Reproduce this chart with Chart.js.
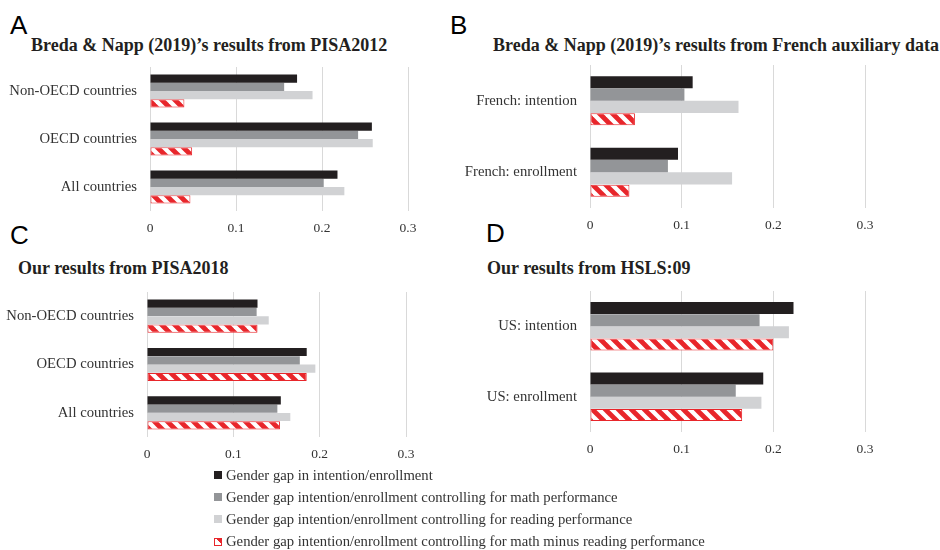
<!DOCTYPE html>
<html>
<head>
<meta charset="utf-8">
<script src="https://cdn.jsdelivr.net/npm/chart.js@4.4.1/dist/chart.umd.min.js"></script>
<style>
  body { margin:0; background:#fff; width:940px; height:550px; position:relative; overflow:hidden; font-family:'Liberation Serif', serif; }
  .pl { position:absolute; font-family:'Liberation Sans', Arial, sans-serif; font-size:26px; line-height:1; color:#000; }
  .tt { position:absolute; font-weight:bold; font-size:18px; line-height:1; color:#231f20; white-space:nowrap; }
  .box { position:absolute; }
  .box canvas { display:block; }
  #legend { position:absolute; left:214px; top:464px; font-size:14.7px; color:#333; }
  #legend .row { height:22.2px; display:flex; align-items:center; white-space:nowrap; }
  #legend .mk { width:8px; height:8px; margin-right:4px; box-sizing:border-box; }
</style>
</head>
<body>
<div class="pl" style="left:10px;top:12px">A</div>
<div class="pl" style="left:450px;top:12px">B</div>
<div class="pl" style="left:10px;top:222px">C</div>
<div class="pl" style="left:486px;top:220px">D</div>

<div class="tt" style="left:31px;top:36px">Breda &amp; Napp (2019)’s results from PISA2012</div>
<div class="tt" style="left:493px;top:36px">Breda &amp; Napp (2019)’s results from French auxiliary data</div>
<div class="tt" style="left:18px;top:259px">Our results from PISA2018</div>
<div class="tt" style="left:487px;top:259px">Our results from HSLS:09</div>

<div class="box" id="boxA"><canvas id="cvA"></canvas></div>
<div class="box" id="boxB"><canvas id="cvB"></canvas></div>
<div class="box" id="boxC"><canvas id="cvC"></canvas></div>
<div class="box" id="boxD"><canvas id="cvD"></canvas></div>

<div id="legend"></div>

<script>
// --- series names (legend) ---
const seriesNames = [
  'Gender gap in intention/enrollment',
  'Gender gap intention/enrollment controlling for math performance',
  'Gender gap intention/enrollment controlling for reading performance',
  'Gender gap intention/enrollment controlling for math minus reading performance'
];

// --- A: Breda & Napp, PISA2012 ---
const catA   = ['Non-OECD countries', 'OECD countries', 'All countries'];
const gapA   = [0.171, 0.258, 0.218];
const mathA  = [0.156, 0.242, 0.202];
const readA  = [0.189, 0.259, 0.226];
const diffA  = [0.040, 0.049, 0.047];

// --- B: Breda & Napp, French auxiliary data ---
const catB   = ['French: intention', 'French: enrollment'];
const gapB   = [0.112, 0.096];
const mathB  = [0.103, 0.085];
const readB  = [0.162, 0.155];
const diffB  = [0.049, 0.043];

// --- C: our results, PISA2018 ---
const catC   = ['Non-OECD countries', 'OECD countries', 'All countries'];
const gapC   = [0.128, 0.185, 0.155];
const mathC  = [0.127, 0.177, 0.151];
const readC  = [0.141, 0.195, 0.166];
const diffC  = [0.128, 0.185, 0.154];

// --- D: our results, HSLS:09 ---
const catD   = ['US: intention', 'US: enrollment'];
const gapD   = [0.222, 0.189];
const mathD  = [0.185, 0.159];
const readD  = [0.217, 0.187];
const diffD  = [0.200, 0.166];

// x axis
const xTicks = [0, 0.1, 0.2, 0.3];

const RED = '#e8262b';
const barColors = ['#231f20', '#939598', '#d1d2d4'];

// hachures rouges (diagonale \)
function makeHatch() {
  const s = 13;
  const t = document.createElement('canvas');
  t.width = s; t.height = s;
  const c = t.getContext('2d');
  c.fillStyle = '#fff';
  c.fillRect(0, 0, s, s);
  c.strokeStyle = RED;
  c.lineWidth = 4.8;
  [-s, 0, s].forEach(k => {
    c.beginPath();
    c.moveTo(k - 2, -2);
    c.lineTo(k + s + 2, s + 2);
    c.stroke();
  });
  return c.createPattern(t, 'repeat');
}
const hatch = makeHatch();

// panel layout: container box and wanted chart area (page px)
const panels = [
  { id:'A', labels:catA, values:[gapA, mathA, readA, diffA], box:{l:0,   t:55,  w:440, h:190}, area:{l:150, t:67,  r:408, b:211} },
  { id:'B', labels:catB, values:[gapB, mathB, readB, diffB], box:{l:450, t:55,  w:490, h:185}, area:{l:590, t:65,  r:865, b:208} },
  { id:'C', labels:catC, values:[gapC, mathC, readC, diffC], box:{l:0,   t:280, w:440, h:190}, area:{l:147, t:292, r:406, b:437} },
  { id:'D', labels:catD, values:[gapD, mathD, readD, diffD], box:{l:450, t:280, w:490, h:185}, area:{l:590, t:291, r:865, b:432} }
];

const serif = "'Liberation Serif', 'Times New Roman', serif";

function makePanel(p) {
  const box = document.getElementById('box' + p.id);
  box.style.left = p.box.l + 'px';
  box.style.top = p.box.t + 'px';
  const cv = document.getElementById('cv' + p.id);
  cv.width = p.box.w;
  cv.height = p.box.h;

  const yWidth = p.area.l - p.box.l;
  const xHeight = p.box.t + p.box.h - p.area.b;
  const padTop = p.area.t - p.box.t;
  const padRight = p.box.l + p.box.w - p.area.r;

  new Chart(cv, {
    type: 'bar',
    data: {
      labels: p.labels,
      datasets: seriesNames.map((name, i) => ({
        label: name,
        data: p.values[i],
        backgroundColor: i === 3 ? hatch : barColors[i],
        borderColor: i === 3 ? RED : barColors[i],
        borderWidth: i === 3 ? 1 : 0,
        borderSkipped: false,
        categoryPercentage: 0.69,
        barPercentage: 0.98
      }))
    },
    options: {
      indexAxis: 'y',
      responsive: false,
      animation: false,
      devicePixelRatio: 1,
      layout: { padding: { top: padTop, right: padRight, left: 0, bottom: 0 } },
      plugins: { legend: { display: false }, tooltip: { enabled: false } },
      scales: {
        x: {
          min: xTicks[0],
          max: xTicks[xTicks.length - 1],
          afterBuildTicks: s => { s.ticks = xTicks.map(v => ({ value: v })); },
          ticks: {
            padding: 9,
            color: '#333',
            font: { family: serif, size: 13.5 },
            callback: v => String(Math.round(v * 10) / 10)
          },
          grid: { color: '#d9d9d9', lineWidth: 1, drawTicks: false },
          border: { display: false },
          afterFit: s => { s.height = xHeight; s.paddingLeft = 0; s.paddingRight = 0; }
        },
        y: {
          grid: { display: false, drawTicks: false },
          border: { display: false },
          ticks: { padding: 13, color: '#333', font: { family: serif, size: 14.7 } },
          // pas de marge auto en haut/bas : la zone suit layout.padding
          afterFit: s => { s.width = yWidth; s.paddingTop = 0; s.paddingBottom = 0; }
        }
      }
    }
  });
}

panels.forEach(makePanel);

// legende commune
const legend = document.getElementById('legend');
seriesNames.forEach((name, i) => {
  const row = document.createElement('div');
  row.className = 'row';
  const mk = document.createElement('div');
  mk.className = 'mk';
  if (i === 3) {
    mk.style.border = '1px solid ' + RED;
    mk.style.background = 'linear-gradient(225deg, ' + RED + ' 38%, #fff 38%)';
  } else {
    mk.style.background = barColors[i];
  }
  const tx = document.createElement('span');
  tx.textContent = name;
  row.appendChild(mk);
  row.appendChild(tx);
  legend.appendChild(row);
});
</script>
</body>
</html>
